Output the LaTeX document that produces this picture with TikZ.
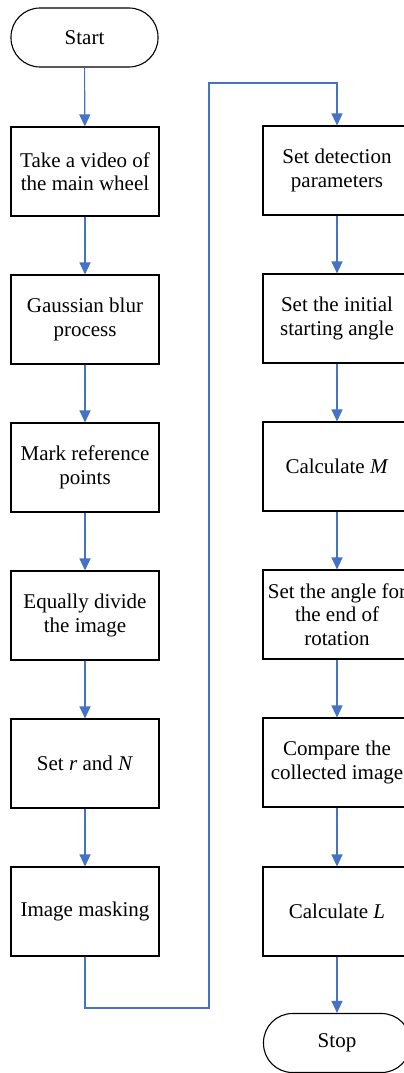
\documentclass[tikz,border=0pt]{standalone}
\usepackage{fontspec}
\setmainfont{Liberation Serif}
\usetikzlibrary{arrows.meta}
\definecolor{flowblue}{HTML}{4472C4}
\begin{document}
\begin{tikzpicture}[x=1pt,y=-1pt,
  procbox/.style={draw=black,line width=1.1pt,minimum width=148pt,minimum height=89pt,inner sep=0pt,align=center,font=\fontsize{21}{23.5}\selectfont},
  termbox/.style={draw=black,line width=1.1pt,minimum width=147pt,minimum height=59pt,inner sep=0pt,rounded corners=29pt,align=center,font=\fontsize{21}{23.5}\selectfont},
  flow/.style={draw=flowblue,line width=1.1pt,-{Triangle[width=11pt,length=12pt]}}]
\useasboundingbox (0,0) rectangle (404,1073);
\clip (0,0) rectangle (404,1073);
% left column
\node[termbox] (start) at (84.5,37.5) {Start};
\node[procbox] (l1) at (85,171.5) {Take a video of\\the main wheel};
\node[procbox] (l2) at (85,319.5) {Gaussian blur\\process};
\node[procbox] (l3) at (85,467.5) {Mark reference\\points};
\node[procbox] (l4) at (85,615.5) {Equally divide\\the image};
\node[procbox] (l5) at (85,763.5) {Set \textit{r} and \textit{N}};
\node[procbox] (l6) at (85,911.5) {Image masking};
% right column
\node[procbox] (r1) at (337,170.5) {Set detection\\parameters};
\node[procbox] (r2) at (337,318.5) {Set the initial\\starting angle};
\node[procbox] (r3) at (337,466.5) {Calculate \textit{M}};
\node[procbox] (r4) at (337,614.5) {Set the angle for\\the end of\\rotation};
\node[procbox] (r5) at (337,762.5) {Compare the\\collected image};
\node[procbox] (r6) at (337,911.5) {Calculate \textit{L}};
\node[termbox] (stop) at (337,1043) {Stop};
% connectors
\draw[flow] (start) -- (l1);
\draw[flow] (l1) -- (l2);
\draw[flow] (l2) -- (l3);
\draw[flow] (l3) -- (l4);
\draw[flow] (l4) -- (l5);
\draw[flow] (l5) -- (l6);
\coordinate (c1) at (209,1008);
\coordinate (c2) at (209,83);
\draw[flow] (l6.south) |- (c1) -- (c2) -| (r1.north);
\draw[flow] (r1) -- (r2);
\draw[flow] (r2) -- (r3);
\draw[flow] (r3) -- (r4);
\draw[flow] (r4) -- (r5);
\draw[flow] (r5) -- (r6);
\draw[flow] (r6) -- (stop);
\end{tikzpicture}
\end{document}
